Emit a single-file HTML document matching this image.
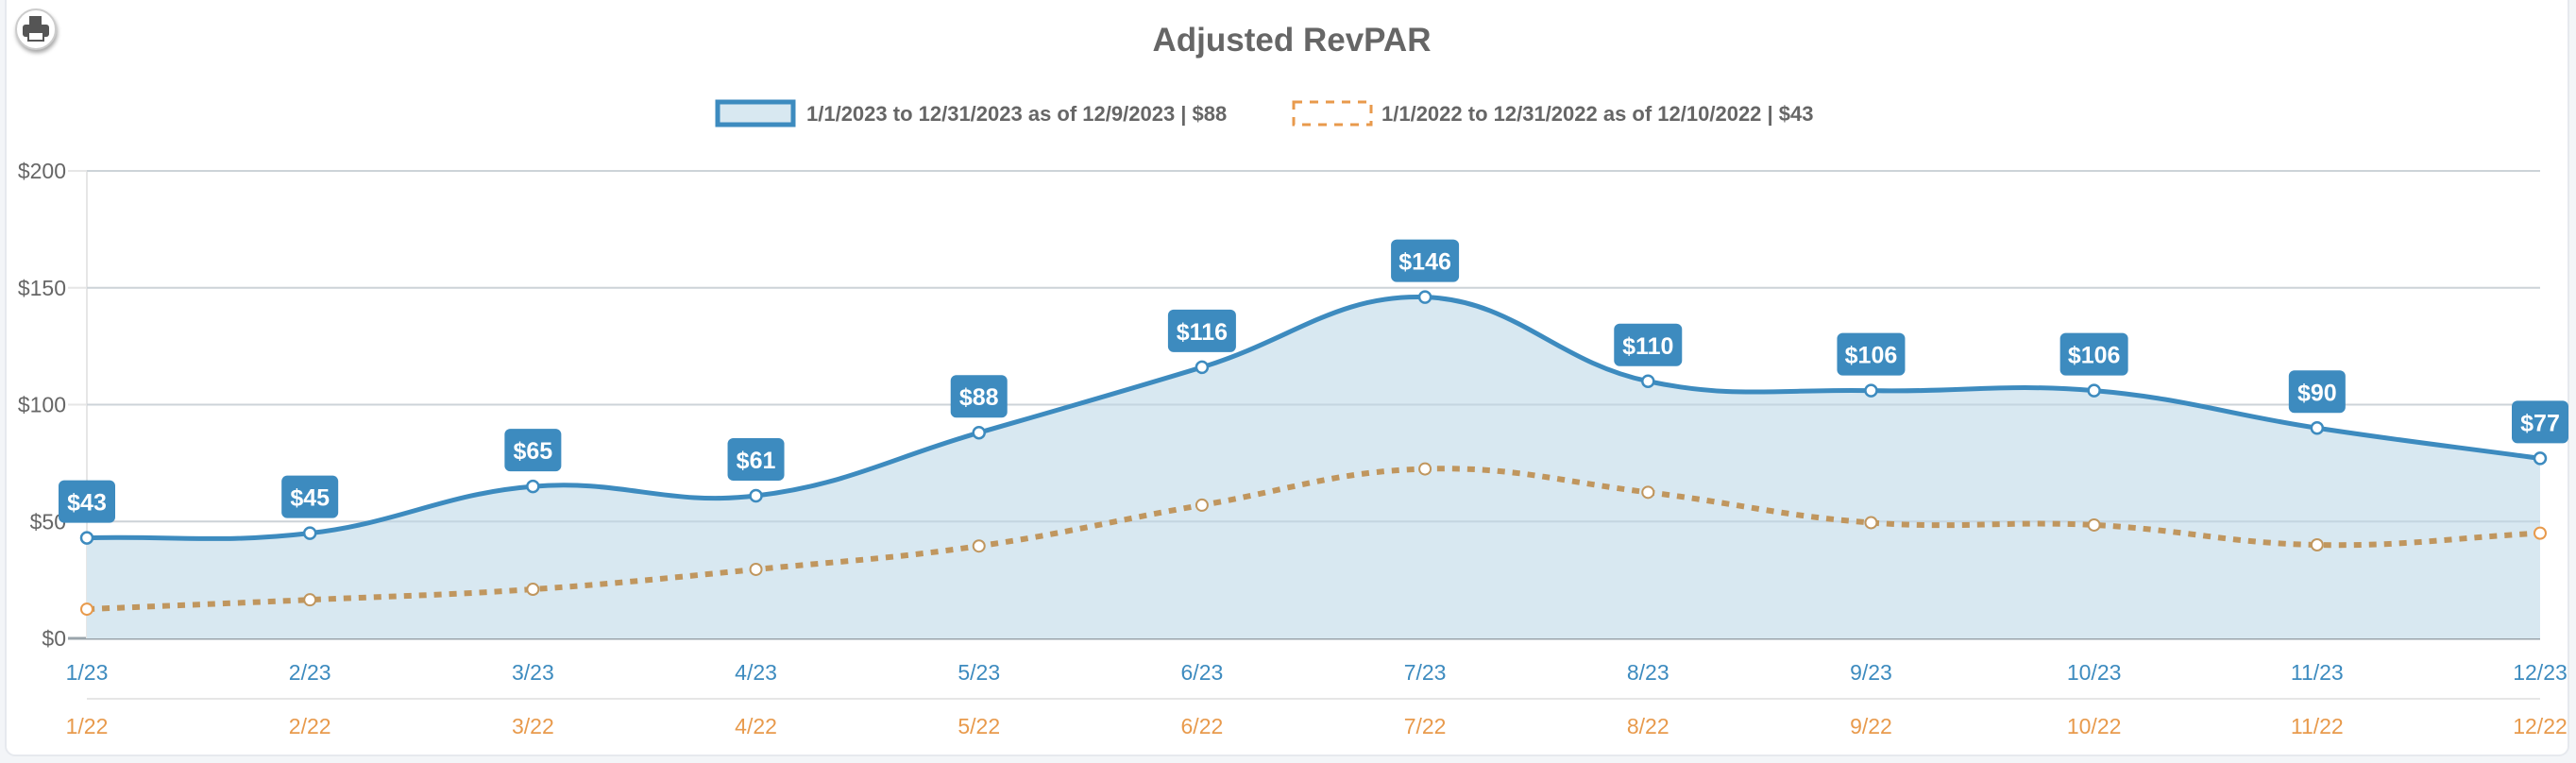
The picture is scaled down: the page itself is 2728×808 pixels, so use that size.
<!DOCTYPE html>
<html><head><meta charset="utf-8"><style>
html,body{margin:0;padding:0;background:#f3f5f8;}
body{width:2728px;height:808px;overflow:hidden;font-family:"Liberation Sans",Arial,sans-serif;}
</style></head><body>
<svg id="s" width="2728" height="808" xmlns="http://www.w3.org/2000/svg" style="position:absolute;left:0;top:0">
<rect x="6" y="-10" width="2714" height="810" rx="10" fill="#fff" stroke="#e6e9ee" stroke-width="2"/>
<g id="g"></g>
</svg>
<script>
const NS="http://www.w3.org/2000/svg";
const g=document.getElementById('g');
function el(t,a,txt){const e=document.createElementNS(NS,t);for(const k in a)e.setAttribute(k,a[k]);if(txt!=null)e.textContent=txt;g.appendChild(e);return e;}
const x0=92,x1=2690,y0=676,y200=181;
const X=i=>x0+(x1-x0)*i/11, Y=v=>y0-(y0-y200)*v/200;
// printer icon
el('circle',{cx:38,cy:31,r:21,fill:'#fff',stroke:'#ccc','stroke-width':2,style:'filter:drop-shadow(1px 3px 2px rgba(0,0,0,.35))'});
el('rect',{x:31,y:17,width:13,height:10,fill:'#555'});
el('rect',{x:24,y:26,width:28,height:13,rx:3,fill:'#555'});
el('rect',{x:30,y:34,width:16,height:9,fill:'#fff',stroke:'#555','stroke-width':2});
// title
el('text',{x:1368,y:54,'text-anchor':'middle','font-size':35,'font-weight':'bold',fill:'#666'},'Adjusted RevPAR');
// legend
el('rect',{x:760,y:108,width:80,height:24,fill:'#d8e8f1',stroke:'#3d8bbf','stroke-width':5});
el('text',{x:854,y:128,'font-size':22,'font-weight':'bold',fill:'#666'},'1/1/2023 to 12/31/2023 as of 12/9/2023 | $88');
el('rect',{x:1370,y:108,width:82,height:24,fill:'none',stroke:'#e89a4c','stroke-width':3,'stroke-dasharray':'9 8'});
el('text',{x:1463,y:128,'font-size':22,'font-weight':'bold',fill:'#666'},'1/1/2022 to 12/31/2022 as of 12/10/2022 | $43');
// grid
for(let v=0;v<=200;v+=50){const y=Y(v);
 el('line',{x1:72,y1:y,x2:x1,y2:y,stroke:v==0?'#9aa4ab':'#e6e6e6','stroke-width':v==0?3:2});
 el('text',{x:70,y:y+8,'text-anchor':'end','font-size':23,fill:'#666'},'$'+v);}
el('line',{x1:x0,y1:y200,x2:x0,y2:y0,stroke:'#e6e6e6','stroke-width':2});
el('line',{x1:x0,y1:740,x2:x1,y2:740,stroke:'#e6e6e6','stroke-width':2});
const a=[43,45,65,61,88,116,146,110,106,106,90,77];
const b=[12.5,16.5,21,29.5,39.5,57,72.5,62.5,49.5,48.5,40,45];
function path(d){const p=d.map((v,i)=>[X(i),Y(v)]);let s='M'+p[0][0]+','+p[0][1];
 const cp=p.map((c,i)=>{const pr=p[i-1]||c,nx=p[i+1]||c;const d01=Math.hypot(c[0]-pr[0],c[1]-pr[1]),d12=Math.hypot(nx[0]-c[0],nx[1]-c[1]);
  const t=0.4;let fa=t*d01/(d01+d12||1),fb=t*d12/(d01+d12||1);
  return {p:[c[0]-fa*(nx[0]-pr[0]),c[1]-fa*(nx[1]-pr[1])],n:[c[0]+fb*(nx[0]-pr[0]),c[1]+fb*(nx[1]-pr[1])]};});
 for(let i=1;i<p.length;i++)s+=' C'+cp[i-1].n+' '+cp[i].p+' '+p[i];return s;}
const pa=path(a);
el('path',{d:pa+' L'+x1+','+y0+' L'+x0+','+y0+' Z',fill:'#d8e8f1'});
for(let v=50;v<=200;v+=50)el('line',{x1:x0,y1:Y(v),x2:x1,y2:Y(v),stroke:'rgba(150,170,185,0.3)','stroke-width':2});
el('path',{d:path(b),fill:'none',stroke:'#c0965e','stroke-width':6,'stroke-dasharray':'8 8'});
el('path',{d:pa,fill:'none',stroke:'#3d8bbf','stroke-width':5});
b.forEach((v,i)=>el('circle',{cx:X(i),cy:Y(v),r:6,fill:'#fff',stroke:i==0||i==11?'#e89a4c':'#c0965e','stroke-width':2}));
a.forEach((v,i)=>{const x=X(i),y=Y(v);
 el('circle',{cx:x,cy:y,r:6,fill:'#fff',stroke:'#3d8bbf','stroke-width':2.5});
 const t='$'+v,w=t.length>3?72:60;
 el('rect',{x:x-w/2,y:y-61,width:w,height:45,rx:6,fill:'#3d8bbf'});
 el('text',{x:x,y:y-29,'text-anchor':'middle','font-size':25,'font-weight':'bold',fill:'#fff'},t);
 el('text',{x:x,y:720,'text-anchor':'middle','font-size':23,fill:'#3d8bbf'},(i+1)+'/23');
 el('text',{x:x,y:777,'text-anchor':'middle','font-size':23,fill:'#e89a4c'},(i+1)+'/22');});
</script>
</body></html>
